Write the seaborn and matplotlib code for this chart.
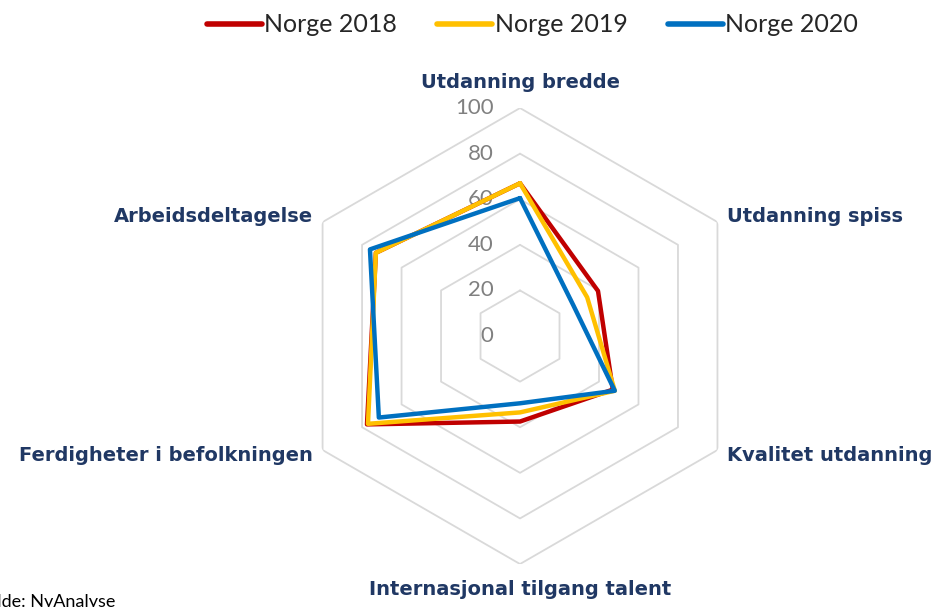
import numpy as np
import pandas as pd
import matplotlib.pyplot as plt
import seaborn as sns

categories = ["Utdanning bredde", "Utdanning spiss", "Kvalitet utdanning",
              "Internasjonal tilgang talent", "Ferdigheter i befolkningen",
              "Arbeidsdeltagelse"]
norge_2018 = [67, 39.5, 47, 37.5, 77.5, 73]
norge_2019 = [67, 34, 48, 33.5, 77, 73]
norge_2020 = [60.5, 27, 48, 29.5, 71.5, 76]
series_names = ["Norge 2018", "Norge 2019", "Norge 2020"]
tick_values = [0, 20, 40, 60, 80, 100]

colors = ["#C00000", "#FFC000", "#0070C0"]
navy = "#203864"

# long table, loop closed by repeating the first point
n = len(categories)
angles = np.linspace(0, 2 * np.pi, n, endpoint=False)
rows = []
for name, vals in zip(series_names, [norge_2018, norge_2019, norge_2020]):
    for i in range(n + 1):
        rows.append({"serie": name, "theta": angles[i % n] if i < n else 2 * np.pi,
                     "verdi": vals[i % n]})
df = pd.DataFrame(rows)

sns.set_theme(style="white")
plt.rcParams["font.family"] = ["Lato", "DejaVu Sans"]

fig = plt.figure(figsize=(9.39, 6.07), dpi=100)
ax = fig.add_axes([0.311, 0.0708, 0.4856, 0.7512], projection="polar")
ax.set_theta_offset(np.pi / 2)
ax.set_theta_direction(-1)

# hexagonal grid
grid_theta = np.append(angles, 0)
for level in tick_values[1:]:
    ax.plot(grid_theta, [level] * (n + 1), color="#D9D9D9", lw=1.3, zorder=1)
ax.grid(False)
ax.spines["polar"].set_visible(False)

sns.lineplot(data=df, x="theta", y="verdi", hue="serie", hue_order=series_names,
             palette=colors, sort=False, estimator=None, units="serie",
             lw=3.2, ax=ax, legend=False, zorder=3)
ax.set_xlabel("")
ax.set_ylabel("")
ax.set_xticks([])
ax.set_yticks([])
ax.set_ylim(0, 100)

for v in tick_values:
    ax.annotate(str(v), xy=(0, v), xytext=(-19, 0), textcoords="offset points",
                ha="right", va="center", fontsize=16, color="#808080", zorder=2)

label_pos = [(111, "center"), (105, "left"), (105, "left"),
             (111, "center"), (105, "right"), (105, "right")]
for a, cat, (r, ha) in zip(angles, categories, label_pos):
    ax.text(a, r, cat, ha=ha, va="center", fontsize=14, fontweight="bold",
            color=navy, family="DejaVu Sans", clip_on=False)

handles = [plt.Line2D([], [], color=c, lw=4, solid_capstyle="round") for c in colors]
fig.legend(handles, series_names, loc="upper center", bbox_to_anchor=(0.567, 1.015),
           ncol=3, frameon=False, fontsize=18, handlelength=2.2,
           handletextpad=0.1, columnspacing=1.6)

fig.text(-0.02, -0.005, "Kilde: NyAnalyse", fontsize=13, color="black",
         ha="left", va="bottom")

fig.savefig("out.png", dpi=100)
